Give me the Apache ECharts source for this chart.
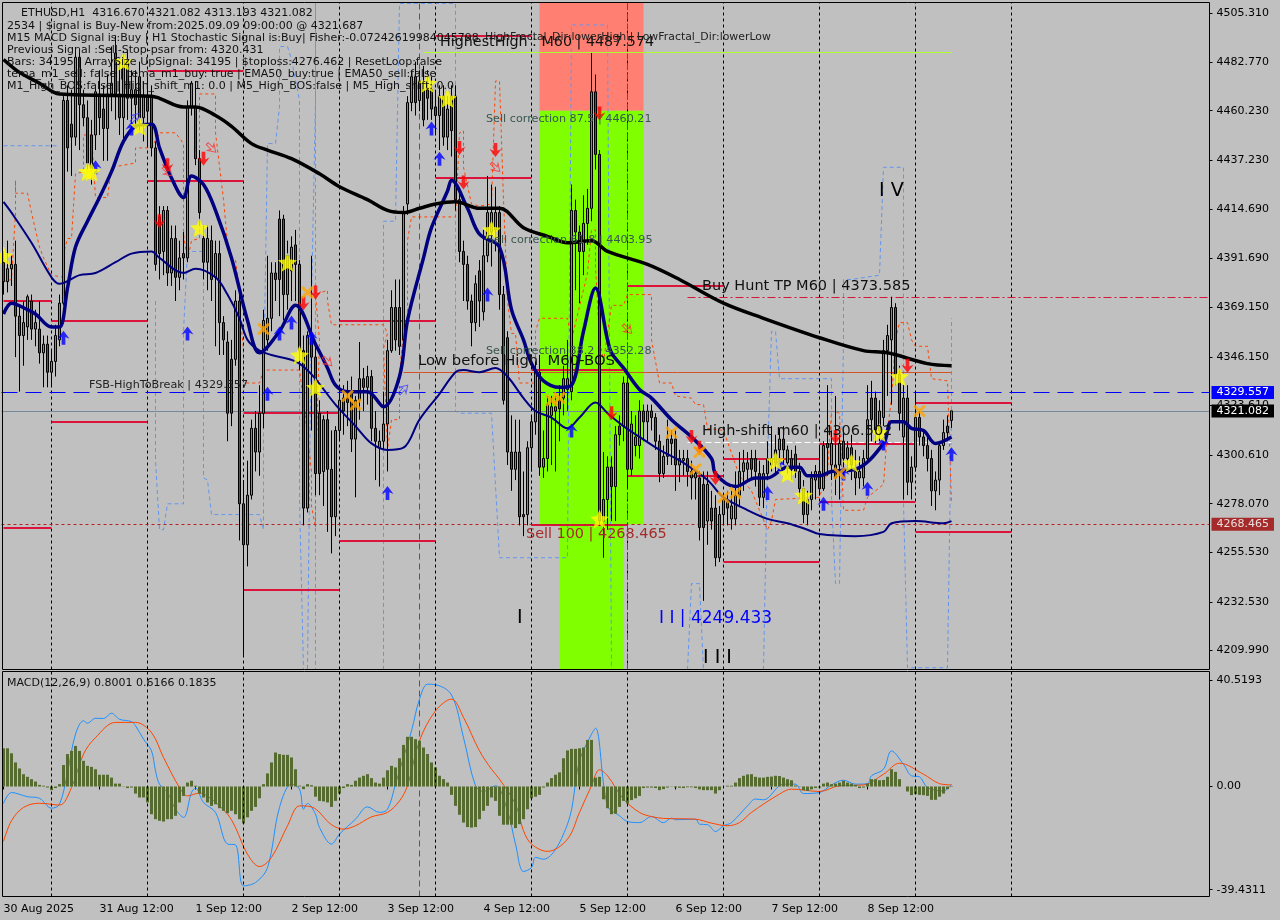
<!DOCTYPE html>
<html><head><meta charset="utf-8">
<style>html,body{margin:0;padding:0;background:#c0c0c0}#c{width:1280px;height:920px}</style>
<script src="https://cdn.jsdelivr.net/npm/echarts@6/dist/echarts.min.js"></script>
</head><body><div id="c"></div>
<script>
const opens=[
4390,4381,4387,4389,4365,4356,4360,4372,4359,4359,
4348,4352,4339,4344,4354,4371,4465,4454,4448,4485,
4463,4457,4449,4449,4468,4461,4452,4468,4487,4468,
4457,4484,4466,4470,4476,4457,4467,4467,4443,4411,
4395,4414,4385,4401,4383,4394,4392,4462,4462,4438,
4401,4390,4400,4383,4394,4362,4353,4345,4345,4372,
4278,4259,4282,4313,4302,4320,4354,4364,4385,4410,
4410,4375,4386,4398,4389,4349,4276,4355,4346,4320,
4293,4317,4294,4272,4312,4327,4327,4329,4308,4326,
4336,4332,4337,4313,4304,4307,4315,4349,4369,4369,
4354,4417,4464,4476,4465,4470,4470,4470,4462,4458,
4467,4448,4467,4467,4419,4395,4389,4372,4362,4386,
4367,4393,4404,4405,4413,4375,4355,4302,4294,4302,
4273,4273,4304,4316,4339,4295,4299,4319,4321,4326,
4327,4331,4330,4414,4404,4395,4408,4415,4469,4440,
4270,4280,4295,4286,4314,4314,4334,4294,4305,4305,
4321,4316,4321,4318,4307,4292,4300,4308,4308,4296,
4298,4299,4293,4290,4290,4287,4270,4276,4276,4253,
4273,4279,4271,4271,4282,4293,4294,4299,4299,4292,
4281,4292,4296,4303,4303,4308,4297,4299,4301,4293,
4285,4273,4280,4289,4293,4285,4306,4296,4296,4296,
4307,4299,4304,4293,4290,4290,4299,4327,4327,4312,
4318,4349,4354,4369,4338,4309,4327,4288,4295,4318,
4309,4305,4299,4284,4289,4305,4314,4316.67];
const closes=[
4381,4387,4389,4365,4356,4362,4374,4359,4362,4348,
4352,4339,4344,4356,4371,4465,4443,4448,4485,4463,
4457,4436,4432,4469,4457,4452,4468,4473,4468,4457,
4484,4466,4470,4463,4457,4467,4460,4443,4389,4394,
4414,4385,4401,4383,4392,4392,4462,4473,4438,4413,
4390,4401,4382,4394,4362,4354,4320,4320,4372,4278,
4259,4282,4313,4302,4320,4363,4364,4385,4382,4382,
4375,4393,4397,4389,4349,4276,4356,4346,4292,4292,
4317,4294,4272,4312,4326,4321,4325,4308,4326,4336,
4332,4337,4313,4307,4307,4315,4349,4369,4354,4351,
4413,4464,4476,4464,4474,4456,4466,4461,4458,4467,
4448,4461,4451,4419,4395,4389,4372,4362,4380,4372,
4393,4413,4413,4413,4375,4326,4302,4294,4302,4272,
4272,4304,4316,4340,4295,4299,4324,4323,4323,4322,
4336,4336,4414,4404,4395,4408,4415,4469,4440,4270,
4280,4295,4286,4310,4310,4334,4294,4315,4309,4321,
4316,4321,4318,4307,4292,4300,4308,4306,4296,4299,
4299,4293,4290,4292,4267,4267,4287,4270,4253,4273,
4280,4276,4277,4282,4293,4297,4297,4294,4293,4281,
4292,4299,4299,4297,4308,4303,4303,4294,4293,4285,
4273,4280,4290,4293,4285,4305,4304,4306,4290,4306,
4299,4304,4296,4290,4293,4299,4317,4317,4312,4321,
4349,4356,4369,4338,4320,4327,4288,4295,4318,4309,
4305,4299,4284,4289,4305,4311,4311,4321.082];
const lows=[
4375,4376,4379,4346,4330,4342,4354,4354,4351,4343,
4332,4332,4333,4337,4351,4370,4432,4430,4444,4442,
4453,4432,4426,4442,4449,4437,4437,4460,4456,4449,
4447,4456,4451,4453,4451,4446,4444,4439,4386,4382,
4384,4379,4379,4372,4377,4382,4390,4458,4435,4407,
4382,4377,4372,4351,4347,4347,4307,4314,4342,4261,
4208,4249,4280,4293,4291,4313,4349,4358,4372,4365,
4363,4368,4372,4372,4340,4268,4274,4312,4282,4282,
4277,4265,4255,4263,4307,4310,4314,4302,4281,4317,
4321,4324,4307,4289,4286,4303,4293,4348,4349,4347,
4351,4412,4460,4458,4460,4453,4456,4456,4449,4442,
4444,4442,4439,4414,4390,4372,4368,4351,4358,4360,
4363,4390,4388,4395,4368,4324,4296,4284,4289,4268,
4263,4268,4293,4310,4291,4290,4293,4296,4293,4307,
4319,4321,4326,4377,4371,4384,4398,4409,4433,4268,
4253,4266,4270,4270,4305,4307,4285,4291,4300,4299,
4307,4307,4312,4303,4288,4290,4296,4296,4284,4288,
4291,4286,4280,4280,4261,4233,4259,4266,4249,4251,
4268,4268,4266,4268,4277,4284,4289,4289,4286,4277,
4276,4289,4293,4291,4296,4296,4292,4289,4290,4280,
4269,4268,4275,4280,4282,4284,4291,4289,4282,4280,
4289,4293,4289,4282,4285,4286,4297,4307,4306,4307,
4314,4328,4324,4333,4312,4280,4282,4280,4293,4305,
4300,4293,4277,4275,4282,4303,4307,4313.193];
const highs=[
4395,4400,4393,4400,4370,4372,4375,4375,4368,4372,
4356,4356,4349,4361,4375,4467,4472,4470,4488,4488,
4470,4465,4456,4472,4479,4472,4477,4490,4495,4483,
4488,4488,4479,4479,4483,4474,4476,4472,4446,4416,
4416,4416,4407,4407,4400,4404,4465,4474,4474,4442,
4407,4407,4407,4400,4400,4365,4358,4354,4377,4379,
4289,4298,4317,4321,4333,4368,4393,4390,4390,4414,
4412,4400,4402,4405,4391,4356,4358,4393,4351,4326,
4319,4321,4312,4314,4330,4333,4335,4337,4328,4353,
4341,4342,4340,4321,4312,4330,4354,4377,4382,4382,
4416,4467,4479,4483,4479,4481,4479,4476,4470,4472,
4472,4467,4472,4472,4423,4400,4393,4375,4384,4391,
4405,4430,4426,4425,4416,4379,4358,4319,4317,4317,
4293,4307,4319,4344,4347,4312,4328,4328,4328,4333,
4342,4354,4426,4419,4407,4421,4424,4487,4477,4442,
4302,4300,4300,4314,4319,4337,4337,4321,4319,4326,
4324,4324,4324,4320,4310,4305,4317,4312,4312,4303,
4303,4303,4298,4293,4293,4293,4293,4284,4282,4277,
4283,4284,4284,4293,4302,4303,4302,4303,4303,4298,
4296,4307,4314,4310,4313,4314,4305,4303,4305,4297,
4289,4284,4293,4296,4305,4307,4333,4312,4328,4310,
4312,4307,4310,4303,4300,4303,4333,4335,4330,4326,
4354,4361,4374,4371,4342,4333,4333,4300,4330,4321,
4312,4310,4303,4293,4307,4317,4319,4321.082];

// moving averages: [bar, price]
const blackMA=[[0,4484],[4,4478],[9,4473],[14,4468],[37,4467],[39,4466],[45,4462],[48,4462],[53,4458],[57,4453],[62,4445],[66,4442],[72,4438],[79,4431],[84,4425],[91,4419],[96,4414],[100,4413],[104,4415],[108,4417],[113,4418],[119,4415],[124,4415],[130,4406],[136,4402],[141,4399],[147,4400],[151,4395],[161,4389],[169,4382],[180,4371],[190,4364],[204,4355],[215,4349],[221,4348],[231,4343],[237,4342]];
const navyFast=[[0,4366],[2,4371],[6,4368],[8,4366],[12,4360],[14,4360],[16,4378],[18,4397],[21,4409],[24,4420],[27,4432],[30,4446],[33,4453],[37,4454],[39,4443],[42,4429],[45,4420],[47,4430],[50,4426],[53,4414],[57,4392],[61,4363],[64,4348],[69,4358],[73,4370],[78,4352],[81,4341],[83,4333],[86,4330],[91,4330],[95,4323],[99,4337],[101,4363],[105,4392],[107,4406],[111,4423],[112,4428],[116,4415],[119,4403],[124,4397],[127,4368],[130,4354],[132,4343],[135,4335],[139,4332],[142,4333],[145,4358],[148,4378],[151,4354],[152,4348],[155,4341],[159,4331],[162,4327],[167,4317],[172,4309],[177,4299],[178,4292],[183,4286],[188,4290],[191,4290],[196,4295],[199,4295],[201,4291],[204,4291],[207,4293],[213,4294],[220,4306],[222,4316],[225,4316],[227,4313],[230,4312],[233,4306],[237,4309]];
const navySlow=[[0,4418],[2,4413],[7,4399],[12,4383],[14,4380],[19,4384],[23,4385],[28,4390],[32,4394],[37,4395],[39,4392],[45,4385],[48,4387],[53,4383],[56,4375],[59,4364],[61,4354],[64,4349],[67,4347],[73,4344],[77,4338],[83,4324],[88,4314],[92,4306],[96,4303],[100,4304],[104,4317],[109,4329],[113,4339],[115,4340],[119,4339],[123,4341],[126,4337],[130,4327],[133,4321],[137,4318],[141,4313],[144,4318],[148,4325],[151,4320],[155,4314],[159,4309],[164,4303],[170,4297],[176,4289],[180,4281],[185,4276],[191,4271],[196,4269],[201,4266],[204,4264],[213,4263],[220,4265],[222,4269],[228,4270],[235,4269],[237,4270]];
const orangeStep=[[0,4381],[2,4382],[3,4413],[3,4428],[3,4422],[6,4422],[7,4413],[9,4397],[10,4392],[11,4388],[12,4384],[15,4383],[15,4394],[16,4401],[17,4401],[18,4431],[20,4432],[20,4449],[22,4449],[23,4420],[26,4420],[27,4434],[33,4436],[33,4443],[37,4443],[39,4450],[43,4450],[45,4445],[45,4403],[46,4391],[47,4400],[49,4401],[49,4468],[53,4468],[53,4450],[55,4419],[56,4399],[57,4392],[58,4391],[59,4377],[59,4367],[60,4350],[60,4334],[64,4334],[65,4340],[74,4340],[75,4326],[77,4293],[77,4277],[78,4267],[78,4292],[79,4354],[78,4375],[81,4377],[81,4372],[82,4361],[95,4361],[96,4357],[95,4350],[96,4303],[97,4317],[99,4317],[99,4338],[100,4358],[101,4364],[101,4400],[102,4411],[113,4411],[114,4450],[115,4451],[115,4434],[117,4417],[119,4416],[122,4417],[123,4474],[124,4474],[125,4419],[126,4372],[127,4357],[128,4357],[129,4334],[133,4334],[133,4358],[134,4364],[141,4364],[142,4354],[146,4385],[147,4405],[148,4405],[148,4388],[149,4354],[150,4344],[152,4370],[155,4370],[156,4375],[162,4375],[162,4354],[164,4334],[167,4334],[168,4328],[172,4327],[173,4324],[175,4324],[176,4313],[180,4312],[184,4291],[187,4284],[191,4266],[192,4270],[193,4280],[204,4281],[206,4293],[207,4321],[209,4320],[210,4275],[215,4275],[216,4281],[220,4287],[221,4312],[222,4327],[223,4354],[224,4362],[226,4362],[227,4354],[228,4351],[231,4351],[232,4336],[236,4335],[237,4278]];
const blueStepA=[[0,4444],[14,4444]];
const blueStepB=[[38,4372],[38,4298],[39,4266],[40,4266],[41,4278],[45,4278],[45,4358],[46,4395],[50,4395],[50,4290],[51,4289],[52,4273],[64,4273],[65,4266],[65,4287],[65,4329],[66,4445],[68,4445],[69,4462],[69,4490],[71,4490],[72,4484],[74,4465],[74,4280],[75,4201],[76,4201],[77,4372],[78,4465],[78,4510],[78,4201]];
const blueStepC=[[95,4201],[95,4248],[95,4409],[98,4409],[99,4510],[113,4510],[113,4321],[114,4320],[122,4320],[124,4253],[131,4253],[141,4253],[142,4500],[151,4500],[152,4201]];
const blueStepD=[[171,4201],[172,4241],[174,4241],[175,4201]];
const blueStepE=[[190,4201],[191,4298],[192,4358],[193,4358],[194,4336],[207,4336],[207,4280],[208,4241],[209,4241],[210,4354],[210,4382],[212,4382],[219,4384],[220,4434],[225,4434],[225,4279],[226,4202],[236,4202],[237,4323],[237,4364]];

// horizontal daily levels: [startBar, endBar, price]
const redLevels=[[0,12,4372],[0,12,4267],[12,36,4363],[12,36,4316],[36,60,4479],[36,60,4428],[60,84,4320],[60,84,4238],[84,108,4363],[84,108,4261],[108,132,4495],[108,132,4429],[132,156,4340],[132,156,4268.4],[156,180,4379],[156,180,4291],[180,204,4299],[180,204,4251],[204,228,4306],[204,228,4279],[228,252,4325],[228,252,4265]];

// event markers: [bar, price]
const stars=[[0,4393],[21,4432],[22,4432],[30,4483],[34,4453],[49,4406],[71,4390],[74,4347],[78,4332],[106,4473],[111,4466],[122,4405],[149,4271],[193,4298],[196,4292],[200,4282],[212,4297],[219,4311],[224,4337]];
const crosses=[[65,4359],[76,4376],[86,4328],[88,4324],[137,4326],[139,4327],[167,4311],[174,4302],[173,4294],[180,4281],[183,4283],[209,4292],[229,4321]];
const buyArrows=[[15,4355],[32,4452],[23,4434],[46,4357],[69,4357],[72,4362],[77,4355],[107,4452],[109,4438],[66,4329],[96,4283],[121,4375],[142,4312],[191,4283],[205,4278],[216,4285],[237,4301],[194,4296],[210,4292],[220,4306]];
const sellArrows=[[41,4435],[50,4438],[39,4409],[75,4371],[78,4376],[114,4443],[115,4427],[123,4442],[149,4459],[152,4320],[172,4309],[174,4304],[178,4290],[208,4309],[226,4342]];
const hollowBuy=[[33,4457],[100,4331]];
const hollowSell=[[52,4443],[41,4432],[81,4344],[123,4434],[156,4359]];

// MACD panel
const macdHist=[14.6,14.6,12.7,9.2,6.9,4.7,3.7,2.8,1.9,0.6,
0.3,-0.4,-1.4,-0.6,0.9,8.2,12.4,13.6,15.5,13.6,
9.8,7.9,7.5,6.6,4.5,4.5,4.5,3.4,1.1,1.1,
-0.1,-0.6,-0.4,-2.7,-4.2,-4.2,-6.1,-10.6,-12.5,-13.1,
-13.4,-12.5,-12.5,-11.2,-6.1,-3.6,1.5,2.2,0.3,-2.7,
-4.2,-6.1,-7.4,-6.8,-8.3,-9.3,-10.2,-9.3,-10.6,-12.5,
-14.1,-11.8,-9.3,-7.8,-4.5,0.9,5.0,9.2,13.0,12.4,
12.1,12.1,11.1,6.6,0.3,-1.0,0.9,0.5,-3.9,-5.5,
-5.7,-6.1,-7.8,-5.5,-2.7,-0.6,0.9,0.6,2.2,3.4,
4.1,4.7,3.2,1.5,1.1,3.4,6.2,7.9,7.3,10.8,
15.9,19,19,18.1,17.5,14.9,12.4,9.2,7.3,4.1,
2.8,1.5,-3.2,-7.4,-10.8,-13.8,-15.5,-15.7,-15.5,-12.5,
-9.3,-7.4,-4.2,-5.5,-11.2,-14.6,-14.6,-14.6,-15.9,-14.4,
-12.5,-8.7,-4.5,-3.9,-3.2,-0.4,1.5,3.2,4.5,5.4,
10.8,13.8,14.4,14.4,14.6,14.9,17.8,17.8,3.4,3.7,
-4.9,-8.3,-10.6,-10.4,-7.8,-5.5,-6.5,-5.2,-4.5,-3.6,
-0.6,-0.4,-0.4,-0.6,-1.4,-1.0,-0.4,-0.1,-0.4,-0.5,
-0.6,-0.3,-0.3,-0.6,-1.1,-1.4,-1.4,-1.4,-2.7,-1.4,
0,0.3,0.3,1.5,3.2,4.1,4.6,4.7,3.7,3.4,
3.4,3.7,3.8,4.1,4.0,3.4,2.8,2.4,0.4,-0.1,
-1.4,-1.7,-1.1,-0.6,-0.4,1.1,1.5,0.9,1.1,1.5,
2.2,1.5,1.1,0.6,-0.6,-0.4,1.1,2.8,2.8,2.4,
2.5,3.7,6.6,5.6,2.8,0,-1.9,-3.3,-2.9,-3.2,
-3.3,-3.6,-5.1,-5.1,-3.9,-2.7,-1.0,0.18];
const macdLine=[[0,-6.5],[2,-2.3],[6,-3.9],[9,-4.5],[12,-8.3],[14,-6.8],[16,5.4],[18,20],[20,25.1],[21,24.2],[23,26.1],[25,26],[27,28],[29,25.7],[32,24.8],[33,23.2],[35,18.1],[37,13.6],[38,6],[39,0.9],[41,-2.3],[43,-8.7],[45,-11.8],[47,-2.3],[48,-0.6],[50,-6.1],[53,-9.9],[56,-22],[58,-22.3],[60,-38],[63,-36.7],[66,-31],[69,-8],[72,0.9],[74,-1],[75,-8.7],[76,-6.5],[78,-10.6],[79,-15.7],[82,-22],[84,-18.2],[86,-15.3],[88,-12.5],[91,-7.8],[94,-9.9],[96,-8.7],[98,0.9],[100,11.1],[102,21.3],[104,33.4],[106,39.1],[108,38.9],[112,35],[115,18.7],[118,0.3],[120,-1.9],[123,0.3],[126,-9.3],[128,-22],[130,-32.5],[132,-31],[133,-27.1],[135,-27.8],[141,-14.4],[144,9.8],[147,20],[148,22.3],[151,-7.4],[154,-11.2],[156,-13.4],[159,-13.8],[162,-11.5],[165,-13.8],[167,-12.1],[168,-12.7],[173,-12.5],[174,-14.4],[176,-14.6],[178,-17.2],[180,-15],[182,-13.8],[186,-7.4],[188,-4.8],[190,-5.1],[195,0.9],[198,0.9],[200,-2.7],[204,-2.3],[207,0.6],[210,2.4],[213,0.9],[216,1.1],[217,4.1],[220,6.6],[222,13.6],[225,8.5],[227,4.1],[229,3.7],[231,-0.4],[235,-1.7],[237,0.8]];
const macdSignal=[[0,-21],[2,-13.1],[5,-8],[9,-6.4],[14,-7.1],[17,-0.4],[20,12.4],[23,18.7],[28,24.5],[33,24.5],[37,20.6],[40,11.1],[44,-0.4],[46,-3.6],[49,-2.5],[52,-4.8],[56,-10.6],[58,-15.7],[61,-25.9],[64,-30.6],[67,-27.1],[71,-15],[74,-7.4],[77,-7.8],[82,-14.6],[85,-16.3],[88,-15],[92,-11.6],[96,-9.9],[99,-5.5],[101,0.3],[104,17.5],[108,28.9],[112,33.4],[115,26.4],[119,13.6],[122,6.6],[124,2.8],[128,-6.8],[130,-16.9],[132,-22],[136,-24.8],[141,-20.1],[144,-9.9],[147,0.3],[149,6.4],[151,4.1],[155,-4.8],[159,-9.9],[162,-11.5],[165,-12.2],[173,-12.5],[177,-14],[181,-15],[184,-13.8],[187,-9.9],[194,-2.9],[197,-1],[204,-1.9],[209,0.3],[215,0.6],[220,4.7],[224,8.9],[230,4.7],[234,1.1],[237,0.62]];

// axes
const timeTicks={0:'30 Aug 2025',24:'31 Aug 12:00',48:'1 Sep 12:00',72:'2 Sep 12:00',96:'3 Sep 12:00',120:'4 Sep 12:00',144:'5 Sep 12:00',168:'6 Sep 12:00',192:'7 Sep 12:00',216:'8 Sep 12:00'};
const daySeparators=[12,36,60,84,108,132,156,180,204,228,252];
const priceTicks=[4505.31,4482.77,4460.23,4437.23,4414.69,4391.69,4369.15,4346.15,4323.61,4300.61,4278.07,4255.53,4232.53,4209.99];
const macdTicks=[40.5193,0,-39.4311];
const barSlots=Array.from({length:302},(_,i)=>String(i));

const FONT='"DejaVu Sans"';
const headerLines=[
 ['ETHUSD,H1  4316.670 4321.082 4313.193 4321.082',21,8],
 ['2534 | $ignal is Buy-New from:2025.09.09 09:00:00 @ 4321.687',7,21],
 ['M15 MACD Signal is:Buy | H1 Stochastic Signal is:Buy| Fisher:-0.07242619984045798',7,33],
 ['Previous Signal :Sell-Stop-psar from: 4320.431',7,45],
 ['Bars: 34195 | ArraySize UpSignal: 34195 | $toploss:4276.462 | ResetLoop:false',7,57],
 ['tema_m1_sell: false | tema_m1_buy: true | EMA50_buy:true | EMA50_sell:false',7,69],
 ['M1_High_BOS:false | High_shift_m1: 0.0 | M5_High_BOS:false | M5_High_shift: 0.0',7,81],
 ['MACD(12,26,9) 0.8001 0.6166 0.1835',7,678]
];
const chartNotes=[
 ['HighestHigh : M60 | 4487.574',440,35,14.3,'#111'],
 ['HighFractal_Dir:lowerHigh | LowFractal_Dir:lowerLow',485,32,10.9,'#222'],
 ['Sell correction 87.5 | 4460.21',486,114,11.2,'#38564f'],
 ['Sell correction 61.8 | 4403.95',487,235,11.2,'#38564f'],
 ['Sell correction 38.2 | 4352.28',486,346,11.2,'#38564f'],
 ['Low before High  M60-BOS',418,354,14.8,'#111'],
 ['FSB-HighToBreak | 4329.557',89,380,11.2,'#222'],
 ['Buy Hunt TP M60 | 4373.585',702,279,14.5,'#111'],
 ['High-shift m60 | 4306.502',702,424,14.5,'#111'],
 ['Sell 100 | 4268.465',526,527,14.4,'#a52a2a'],
 ['I I | 4249.433',659,610,17,'#0000ff'],
 ['I',517,609,19,'#000'],
 ['I I I',703,649,19,'#000'],
 ['I V',879,182,19,'#000']
];

const ARROW='path://M5.5 0L11 7.5L7.2 5.8L7.2 13L3.8 13L3.8 5.8L0 7.5Z';
const STAR='path://M10 0L12.9 6.9L20 7.6L14.6 12.4L16.2 19.5L10 15.8L3.8 19.5L5.4 12.4L0 7.6L7.1 6.9Z';
const CROSS='path://M0 2L2 0L6 4L10 0L12 2L8 6L12 10L10 12L6 8L2 12L0 10L4 6Z';

function lineS(data,color,width,type,z,xi=0,smooth=false){return{type:'line',xAxisIndex:xi,yAxisIndex:xi,data,symbol:'none',silent:true,z,smooth,
  lineStyle:{color,width,type:type||'solid',cap:'butt',join:'round'},animation:false}}
function scat(data,symbol,size,style,z,rot){return{type:'scatter',data,symbol,symbolSize:size,symbolRotate:rot||0,itemStyle:style,z,silent:true,animation:false}}
function marks(spec,z,xi=0){return{type:'line',xAxisIndex:xi,yAxisIndex:xi,data:[],silent:true,z,animation:false,...spec}}
const mlBase={symbol:['none','none'],silent:true,animation:false,label:{show:false}};
const vlines=(xs,color,type,z,xi=0)=>marks({markLine:{...mlBase,lineStyle:{color,width:1,type},data:xs.map(x=>({xAxis:x}))}},z,xi);
const segs=(rows,color,width,type,z)=>marks({markLine:{...mlBase,lineStyle:{color,width,type},data:rows.map(r=>[{coord:[r[0],r[2]]},{coord:[r[1],r[2]]}])}},z);
const tag=(price,color,bg,fg,type)=>marks({markLine:{...mlBase,lineStyle:{color,width:1,type},
  data:[{yAxis:price,label:{show:true,position:'end',formatter:price.toFixed(3),backgroundColor:bg,color:fg,fontFamily:FONT,fontSize:11,padding:[1,5,1,5],distance:2}}]}},7);

const series=[
 marks({markArea:{silent:true,animation:false,data:[
   [{xAxis:134,yAxis:4510.41,itemStyle:{color:'#ff8072',opacity:1}},{xAxis:160,yAxis:4460.21}],
   [{xAxis:134,yAxis:4460.21,itemStyle:{color:'#7fff00',opacity:1}},{xAxis:160,yAxis:4268.465}],
   [{xAxis:139,yAxis:4268.465,itemStyle:{color:'#7fff00',opacity:1}},{xAxis:155,yAxis:4201.18}]]}},1),
 vlines(daySeparators,'#000',[3,3],2),
 vlines([104],'#c71585',[6,4],3),
 vlines([156],'#6a3d9a',[6,4],3),
 lineS(blueStepA,'#6495ed',1,[4,3],4),lineS(blueStepB,'#6495ed',1,[4,3],4),lineS(blueStepC,'#6495ed',1,[4,3],4),lineS(blueStepD,'#6495ed',1,[4,3],4),lineS(blueStepE,'#6495ed',1,[4,3],4),
 lineS(orangeStep,'#ff4500',1,[3,3],4),
 {type:'candlestick',data:opens.map((o,i)=>[o,closes[i],lows[i],highs[i]]),barWidth:3,silent:true,z:5,animation:false,
  itemStyle:{color:'#3cb371',color0:'#c8203c',borderColor:'#000',borderColor0:'#000',borderColorDoji:'#000',borderWidth:1}},
 segs(redLevels,'#dc143c',2,'solid',6),
 segs([[100,237,4339]],'#d2552a',1,'solid',6),
 segs([[105,237,4487.574]],'#adff2f',1,'solid',6),
 segs([[171,237,4306.502]],'#ffffff',1,[6,3],6),
 segs([[171,301,4373.585]],'#dc143c',1,[8,3,2,3],6),
 tag(4329.557,'#0000ff','#0000ff','#ffffff',[16,8]),
 tag(4321.082,'#778899','#000000','#ffffff','solid'),
 tag(4268.465,'#b22222','#a52a2a','#e8dede',[3,3]),
 lineS(navySlow,'#000080',2,'solid',7,0,0.35),
 lineS(navyFast,'#000080',3.5,'solid',7,0,0.35),
 lineS(blackMA,'#000000',3.5,'solid',7,0,0.35),
 scat(hollowBuy,ARROW,[9,12],{color:'rgba(0,0,0,0)',borderColor:'#4040ff',borderWidth:1},8,-45),
 scat(hollowSell,ARROW,[9,12],{color:'rgba(0,0,0,0)',borderColor:'#ff3030',borderWidth:1},8,-135),
 scat(buyArrows,ARROW,[12,14],{color:'#0000ff'},9),
 scat(sellArrows,ARROW,[12,14],{color:'#ff0000'},9,180),
 scat(crosses,CROSS,13,{color:'#ffa500'},9),
 scat(stars,STAR,19,{color:'#ffff00'},10),
 lineS(macdLine,'#1e90ff',1,'solid',3,1,0.35),
 lineS(macdSignal,'#ff4500',1,'solid',3,1,0.35),
 {type:'bar',xAxisIndex:1,yAxisIndex:1,data:macdHist,barWidth:3,silent:true,z:4,animation:false,itemStyle:{color:'#556b2f'}},
 vlines(daySeparators,'#000',[3,3],5,1),
 vlines([104],'#c71585',[6,4],5,1)
];

const txt=(s,x,y,size,fill)=>({type:'text',left:x,top:y,z:100,silent:true,style:{text:s,font:`${size}px ${FONT}`,fill}});
const frame=(y,h)=>({type:'rect',z:90,silent:true,shape:{x:2.5,y,width:1207,height:h},style:{fill:'none',stroke:'#000',lineWidth:1}});
const xBase={type:'category',data:barSlots,boundaryGap:true,splitLine:{show:false}};
const option={
 backgroundColor:'#c0c0c0',animation:false,
 grid:[{left:1.5,right:70.5,top:2.5,height:667},
       {left:1.5,right:70.5,top:671.5,height:225}],
 xAxis:[{...xBase,gridIndex:0,axisLine:{show:false},axisTick:{show:false},axisLabel:{show:false}},
        {...xBase,gridIndex:1,axisLine:{show:false},
         axisTick:{show:true,alignWithLabel:true,length:3,interval:i=>i in timeTicks,lineStyle:{color:'#000'}},
         axisLabel:{show:true,interval:i=>i in timeTicks,formatter:(v,i)=>timeTicks[i]||'',align:'left',margin:7,color:'#000',fontFamily:FONT,fontSize:11,hideOverlap:false}}],
 yAxis:[{type:'value',gridIndex:0,position:'right',min:4201.18,max:4510.41,splitLine:{show:false},
         axisLine:{show:false},axisTick:{show:true,length:3,customValues:priceTicks,lineStyle:{color:'#000'}},
         axisLabel:{show:true,customValues:priceTicks,formatter:v=>v.toFixed(3),margin:7,color:'#000',fontFamily:FONT,fontSize:11}},
        {type:'value',gridIndex:1,position:'right',min:-42.05,max:43.96,splitLine:{show:false},
         axisLine:{show:false},axisTick:{show:true,length:3,customValues:macdTicks,lineStyle:{color:'#000'}},
         axisLabel:{show:true,customValues:macdTicks,formatter:v=>v===0?'0.00':v.toFixed(4),margin:7,color:'#000',fontFamily:FONT,fontSize:11}}],
 series,
 graphic:{elements:[frame(2.5,667),frame(671.5,225),...headerLines.map(r=>txt(r[0],r[1],r[2],11,'#111')),...chartNotes.map(r=>txt(r[0],r[1],r[2],r[3],r[4]))]}
};
const chart=echarts.init(document.getElementById('c'),null,{renderer:'canvas',width:1280,height:920});
chart.setOption(option);
</script></body></html>
